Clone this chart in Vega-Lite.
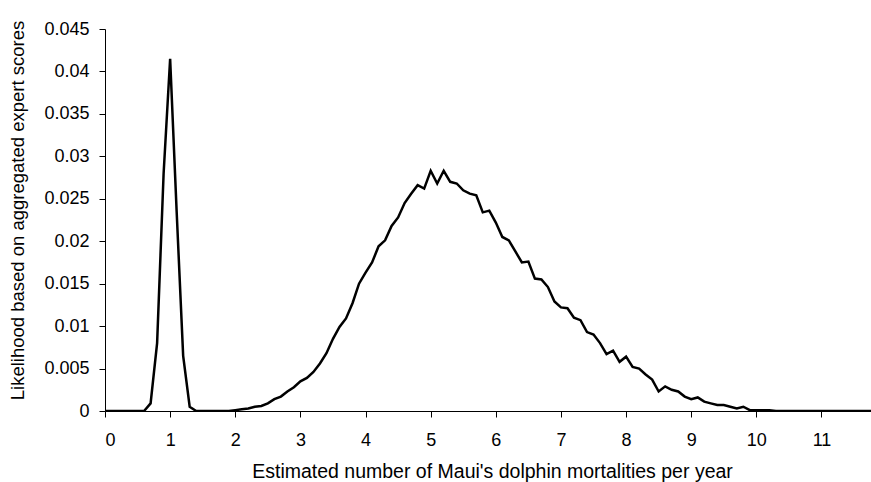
{
  "$schema": "https://vega.github.io/schema/vega-lite/v6.json",
  "width": 766,
  "height": 382,
  "autosize": {"type": "none"},
  "padding": {"left": 105, "top": 29, "right": 0, "bottom": 71},
  "background": "white",
  "config": {
    "view": {"stroke": null},
    "axis": {
      "grid": false,
      "domainColor": "black",
      "domainWidth": 1,
      "tickColor": "black",
      "tickWidth": 1,
      "tickSize": 6,
      "labelColor": "black",
      "labelFont": "Liberation Sans",
      "labelFontSize": 18,
      "titleColor": "black",
      "titleFont": "Liberation Sans",
      "titleFontSize": 18.5,
      "titleFontWeight": "normal"
    }
  },
  "data": {"values": [
    {"deaths": 0.0, "likelihood": 0}, {"deaths": 0.1, "likelihood": 0}, {"deaths": 0.2, "likelihood": 0},
    {"deaths": 0.3, "likelihood": 0}, {"deaths": 0.4, "likelihood": 0}, {"deaths": 0.5, "likelihood": 0},
    {"deaths": 0.6, "likelihood": 0}, {"deaths": 0.7, "likelihood": 0.0009}, {"deaths": 0.8, "likelihood": 0.008},
    {"deaths": 0.9, "likelihood": 0.028}, {"deaths": 1.0, "likelihood": 0.0415}, {"deaths": 1.1, "likelihood": 0.0235},
    {"deaths": 1.2, "likelihood": 0.0065}, {"deaths": 1.3, "likelihood": 0.0005}, {"deaths": 1.4, "likelihood": 0},
    {"deaths": 1.5, "likelihood": 0}, {"deaths": 1.6, "likelihood": 0}, {"deaths": 1.7, "likelihood": 0},
    {"deaths": 1.8, "likelihood": 0}, {"deaths": 1.9, "likelihood": 0}, {"deaths": 2.0, "likelihood": 0.0001},
    {"deaths": 2.1, "likelihood": 0.0002}, {"deaths": 2.2, "likelihood": 0.0003}, {"deaths": 2.3, "likelihood": 0.0005},
    {"deaths": 2.4, "likelihood": 0.0006}, {"deaths": 2.5, "likelihood": 0.0009}, {"deaths": 2.6, "likelihood": 0.0014},
    {"deaths": 2.7, "likelihood": 0.0017}, {"deaths": 2.8, "likelihood": 0.0023}, {"deaths": 2.9, "likelihood": 0.0028},
    {"deaths": 3.0, "likelihood": 0.0035}, {"deaths": 3.1, "likelihood": 0.0039}, {"deaths": 3.2, "likelihood": 0.0046},
    {"deaths": 3.3, "likelihood": 0.0056}, {"deaths": 3.4, "likelihood": 0.0068}, {"deaths": 3.5, "likelihood": 0.0085},
    {"deaths": 3.6, "likelihood": 0.0099}, {"deaths": 3.7, "likelihood": 0.0109}, {"deaths": 3.8, "likelihood": 0.0127},
    {"deaths": 3.9, "likelihood": 0.015}, {"deaths": 4.0, "likelihood": 0.0163}, {"deaths": 4.1, "likelihood": 0.0175},
    {"deaths": 4.2, "likelihood": 0.0194}, {"deaths": 4.3, "likelihood": 0.0201}, {"deaths": 4.4, "likelihood": 0.0218},
    {"deaths": 4.5, "likelihood": 0.0228}, {"deaths": 4.6, "likelihood": 0.0245}, {"deaths": 4.7, "likelihood": 0.0256},
    {"deaths": 4.8, "likelihood": 0.0266}, {"deaths": 4.9, "likelihood": 0.0262}, {"deaths": 5.0, "likelihood": 0.0283},
    {"deaths": 5.1, "likelihood": 0.0268}, {"deaths": 5.2, "likelihood": 0.0283}, {"deaths": 5.3, "likelihood": 0.027},
    {"deaths": 5.4, "likelihood": 0.0268}, {"deaths": 5.5, "likelihood": 0.026}, {"deaths": 5.6, "likelihood": 0.0256},
    {"deaths": 5.7, "likelihood": 0.0254}, {"deaths": 5.8, "likelihood": 0.0234}, {"deaths": 5.9, "likelihood": 0.0236},
    {"deaths": 6.0, "likelihood": 0.0222}, {"deaths": 6.1, "likelihood": 0.0205}, {"deaths": 6.2, "likelihood": 0.0201},
    {"deaths": 6.3, "likelihood": 0.0188}, {"deaths": 6.4, "likelihood": 0.0175}, {"deaths": 6.5, "likelihood": 0.0176},
    {"deaths": 6.6, "likelihood": 0.0156}, {"deaths": 6.7, "likelihood": 0.0155}, {"deaths": 6.8, "likelihood": 0.0146},
    {"deaths": 6.9, "likelihood": 0.0129}, {"deaths": 7.0, "likelihood": 0.0122}, {"deaths": 7.1, "likelihood": 0.0121},
    {"deaths": 7.2, "likelihood": 0.011}, {"deaths": 7.3, "likelihood": 0.0107}, {"deaths": 7.4, "likelihood": 0.0093},
    {"deaths": 7.5, "likelihood": 0.009}, {"deaths": 7.6, "likelihood": 0.008}, {"deaths": 7.7, "likelihood": 0.0067},
    {"deaths": 7.8, "likelihood": 0.0071}, {"deaths": 7.9, "likelihood": 0.0058}, {"deaths": 8.0, "likelihood": 0.0064},
    {"deaths": 8.1, "likelihood": 0.0052}, {"deaths": 8.2, "likelihood": 0.005}, {"deaths": 8.3, "likelihood": 0.0043},
    {"deaths": 8.4, "likelihood": 0.0037}, {"deaths": 8.5, "likelihood": 0.0023}, {"deaths": 8.6, "likelihood": 0.0029},
    {"deaths": 8.7, "likelihood": 0.0025}, {"deaths": 8.8, "likelihood": 0.0023}, {"deaths": 8.9, "likelihood": 0.0017},
    {"deaths": 9.0, "likelihood": 0.0014}, {"deaths": 9.1, "likelihood": 0.0016}, {"deaths": 9.2, "likelihood": 0.0011},
    {"deaths": 9.3, "likelihood": 0.0009}, {"deaths": 9.4, "likelihood": 0.0007}, {"deaths": 9.5, "likelihood": 0.0007},
    {"deaths": 9.6, "likelihood": 0.0005}, {"deaths": 9.7, "likelihood": 0.0003}, {"deaths": 9.8, "likelihood": 0.0005},
    {"deaths": 9.9, "likelihood": 0.0001}, {"deaths": 10.0, "likelihood": 0.0001}, {"deaths": 10.1, "likelihood": 0.0001},
    {"deaths": 10.2, "likelihood": 0.0001}, {"deaths": 10.3, "likelihood": 0}, {"deaths": 10.4, "likelihood": 0},
    {"deaths": 10.5, "likelihood": 0}, {"deaths": 10.6, "likelihood": 0}, {"deaths": 10.7, "likelihood": 0},
    {"deaths": 10.8, "likelihood": 0}, {"deaths": 10.9, "likelihood": 0}, {"deaths": 11.0, "likelihood": 0},
    {"deaths": 11.1, "likelihood": 0}, {"deaths": 11.2, "likelihood": 0}, {"deaths": 11.3, "likelihood": 0},
    {"deaths": 11.4, "likelihood": 0}, {"deaths": 11.5, "likelihood": 0}, {"deaths": 11.6, "likelihood": 0},
    {"deaths": 11.7, "likelihood": 0}, {"deaths": 11.8, "likelihood": 0}
  ]},
  "mark": {"type": "line", "color": "black", "strokeWidth": 2.5, "strokeJoin": "miter", "clip": true},
  "encoding": {
    "x": {
      "field": "deaths",
      "type": "quantitative",
      "scale": {"domain": [0, 11.76], "nice": false, "zero": false},
      "axis": {
        "title": "Estimated number of Maui's dolphin mortalities per year",
        "values": [0, 1, 2, 3, 4, 5, 6, 7, 8, 9, 10, 11],
        "format": "d",
        "labelPadding": 14,
        "titleFontSize": 19.5,
        "titleX": 387,
        "titleY": 66,
        "titleAnchor": null,
        "titleAlign": "center",
        "titleBaseline": "alphabetic"
      }
    },
    "y": {
      "field": "likelihood",
      "type": "quantitative",
      "scale": {"domain": [0, 0.045], "nice": false},
      "axis": {
        "title": "Likelihood based on aggregated expert scores",
        "values": [0, 0.005, 0.01, 0.015, 0.02, 0.025, 0.03, 0.035, 0.04, 0.045],
        "format": "~f",
        "labelPadding": 10,
        "titleX": -82,
        "titleY": 181,
        "titleAngle": -90,
        "titleAlign": "center",
        "titleBaseline": "alphabetic"
      }
    }
  }
}
